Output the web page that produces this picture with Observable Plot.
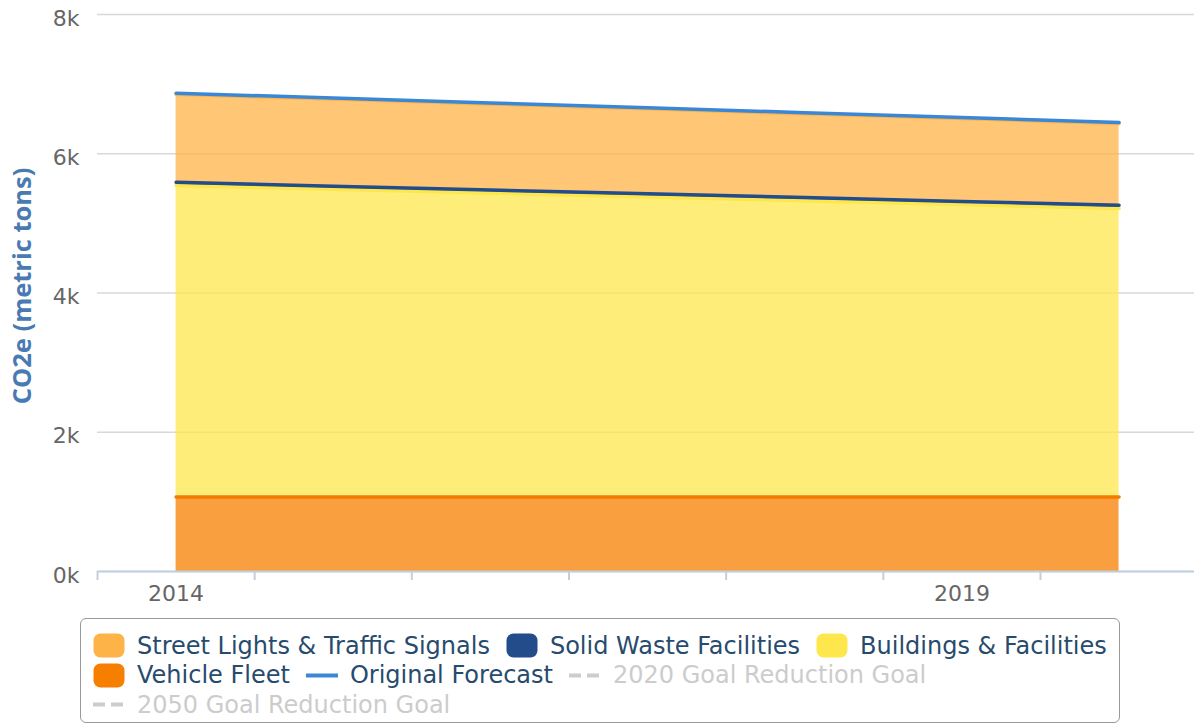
<!DOCTYPE html>
<html>
<head>
<meta charset="utf-8">
<script src="https://cdn.jsdelivr.net/npm/d3@7"></script>
<script src="https://cdn.jsdelivr.net/npm/@observablehq/plot@0.6"></script>
<style>
  html, body { margin: 0; padding: 0; background: #fff; }
  #wrap { position: relative; width: 1194px; height: 725px; overflow: hidden; }
  #chart svg { display: block; overflow: visible; }
  #legend {
    position: absolute; left: 80px; top: 618px; width: 1040px; height: 105px;
    border: 1.5px solid #999; border-radius: 6px; box-sizing: border-box;
    padding: 12px 0 0 12px; display: flex; flex-wrap: wrap; align-content: flex-start;
    column-gap: 16px;
    font-family: "DejaVu Sans", sans-serif; font-size: 24px; color: #274b6d;
  }
  .item { display: flex; align-items: center; height: 29.5px; white-space: nowrap; }
  .sym { width: 32px; height: 25px; margin-right: 12px; display: block; }
  .hidden { color: #cccccc; }
</style>
</head>
<body>
<div id="wrap">
  <div id="chart"></div>
  <div id="legend"></div>
</div>
<script>
// ---- data ----
const years = [2014, 2015, 2016, 2017, 2018, 2019, 2020];
const vehicleFleet = [1070, 1070, 1070, 1070, 1070, 1070, 1070];
const buildingsFacilities = [4475, 4420, 4365, 4310, 4255, 4200, 4145];
const solidWaste = [45, 45, 45, 45, 45, 45, 45];
const streetLights = [1265, 1250, 1235, 1220, 1205, 1190, 1175];
const originalForecast = [6870, 6800, 6730, 6660, 6590, 6520, 6450];
const yTicks = [0, 2000, 4000, 6000, 8000];
const xLabelTicks = [2014, 2019];

// stacking order bottom -> top
const seriesOrder = [
  {name: "Vehicle Fleet", values: vehicleFleet, color: "#F77F00", line: "#F47B00"},
  {name: "Buildings & Facilities", values: buildingsFacilities, color: "#FDE74C", line: "#FDE74C"},
  {name: "Solid Waste Facilities", values: solidWaste, color: "#234C8B", line: "#234C8B"},
  {name: "Street Lights & Traffic Signals", values: streetLights, color: "#FDB347", line: "#FDB347"}
];

const stacked = [];
const base = years.map(() => 0);
for (const s of seriesOrder) {
  years.forEach((yr, i) => {
    stacked.push({series: s.name, year: yr, y1: base[i], y2: base[i] + s.values[i]});
    base[i] += s.values[i];
  });
}
const forecast = years.map((yr, i) => ({year: yr, value: originalForecast[i]}));
const bandEdges = years.map(y => y - 0.5);

const marks = [
  Plot.gridY(yTicks, {stroke: "#d8d8d8", strokeOpacity: 1, strokeWidth: 1.5}),
];
for (const s of seriesOrder) {
  const d = stacked.filter(r => r.series === s.name);
  marks.push(Plot.areaY(d, {x: "year", y1: "y1", y2: "y2", fill: s.color, fillOpacity: 0.75}));
}
for (const s of seriesOrder) {
  const d = stacked.filter(r => r.series === s.name);
  marks.push(Plot.lineY(d, {x: "year", y: "y2", stroke: s.line, strokeWidth: 3.5}));
}
marks.push(Plot.lineY(forecast, {x: "year", y: "value", stroke: "#3A87D8", strokeWidth: 3.5}));
marks.push(Plot.ruleY([0], {stroke: "#C0D0E0", strokeWidth: 2}));
marks.push(Plot.axisX({ticks: bandEdges, tickSize: 9, tickFormat: () => "", stroke: "#C0D0E0", strokeWidth: 2}));
marks.push(Plot.axisX({ticks: xLabelTicks, tickSize: 0, tickPadding: 14, tickFormat: d => String(d),
  fontSize: 22, fill: "#666", fontFamily: "DejaVu Sans"}));
marks.push(Plot.axisY({ticks: yTicks, tickSize: 0, tickPadding: 18, tickFormat: d => (d / 1000) + "k",
  fontSize: 22, fill: "#666", fontFamily: "DejaVu Sans", dy: 4,
  label: null}));

const chart = Plot.plot({
  width: 1194,
  height: 612,
  marginLeft: 97,
  marginRight: 0,
  marginTop: 14,
  marginBottom: 41,
  style: {fontFamily: "DejaVu Sans", background: "transparent"},
  x: {domain: [2013.5, 2020.48], label: null},
  y: {domain: [0, 8000], label: null},
  marks
});
document.getElementById("chart").appendChild(chart);

// y axis title
const svg = d3.select(chart);
svg.append("text")
  .attr("transform", "translate(31,286) rotate(-90)")
  .attr("text-anchor", "middle")
  .attr("font-family", "Open Sans")
  .attr("font-weight", "bold")
  .attr("font-size", 25.5)
  .attr("fill", "#4a7ab2")
  .text("CO2e (metric tons)");

// legend
const legendItems = [
  {name: "Street Lights & Traffic Signals", type: "sw", color: "#FDB347"},
  {name: "Solid Waste Facilities", type: "sw", color: "#234C8B"},
  {name: "Buildings & Facilities", type: "sw", color: "#FDE74C"},
  {name: "Vehicle Fleet", type: "sw", color: "#F77F00"},
  {name: "Original Forecast", type: "ln", color: "#3A87D8"},
  {name: "2020 Goal Reduction Goal", type: "dash", color: "#cccccc", hidden: true},
  {name: "2050 Goal Reduction Goal", type: "dash", color: "#cccccc", hidden: true}
];
const leg = d3.select("#legend");
for (const it of legendItems) {
  const div = leg.append("div").attr("class", "item" + (it.hidden ? " hidden" : ""));
  const s = div.append("svg").attr("class", "sym").attr("width", 32).attr("height", 25);
  if (it.type === "sw") {
    s.append("rect").attr("x", 0.5).attr("y", 0.5).attr("width", 31).attr("height", 24)
      .attr("rx", 7).attr("fill", it.color);
  } else {
    s.append("line").attr("x1", 0).attr("x2", 32).attr("y1", 12.5).attr("y2", 12.5)
      .attr("stroke", it.color).attr("stroke-width", 4)
      .attr("stroke-dasharray", it.type === "dash" ? "12 6" : null);
  }
  div.append("span").text(it.name);
}
</script>
</body>
</html>
